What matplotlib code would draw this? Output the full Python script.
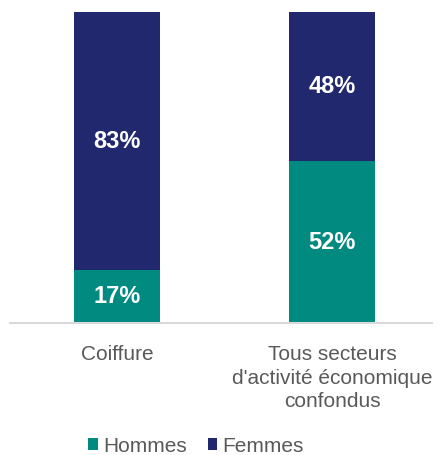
import numpy as np
import matplotlib.pyplot as plt

plt.rcParams['font.family'] = ['Liberation Sans', 'DejaVu Sans']

categories = ['Coiffure', "Tous secteurs\nd'activité économique\nconfondus"]
hommes = [17, 52]
femmes = [83, 48]
series_names = ['Hommes', 'Femmes']
colors = ['#008A80', '#21286E']

fig = plt.figure(figsize=(4.4, 4.55), dpi=100)
ax = fig.add_axes([10 / 440, 1 - 323 / 455, 422 / 440, 311 / 455])

x = np.arange(len(categories))
b1 = ax.bar(x, hommes, width=0.4, color=colors[0], label=series_names[0])
b2 = ax.bar(x, femmes, width=0.4, bottom=hommes, color=colors[1], label=series_names[1])

for bars, vals, bottoms in [(b1, hommes, [0, 0]), (b2, femmes, hommes)]:
    for rect, v, b in zip(bars, vals, bottoms):
        ax.text(rect.get_x() + rect.get_width() / 2, b + v / 2, f'{v}%',
                ha='center', va='center', color='white', fontsize=17, fontweight='bold')

ax.set_xlim(-0.498, 1.465)
ax.set_ylim(0, 100)
ax.set_yticks([])
ax.set_xticks(x)
ax.set_xticklabels(categories, fontsize=15, color='#595959', linespacing=1.3, va='top')
ax.tick_params(axis='x', length=0, pad=16)
for s in ['top', 'right', 'left']:
    ax.spines[s].set_visible(False)
ax.spines['bottom'].set_color('#D9D9D9')
ax.spines['bottom'].set_linewidth(1.5)

fig.legend(handles=[b1, b2], labels=series_names, loc='center',
           bbox_to_anchor=(196 / 440, 1 - 446 / 455), ncol=2, frameon=False,
           fontsize=15, labelcolor='#595959', handlelength=0.45, handleheight=0.45,
           handletextpad=0.25, columnspacing=1.0)

fig.savefig('out.png', dpi=100)
